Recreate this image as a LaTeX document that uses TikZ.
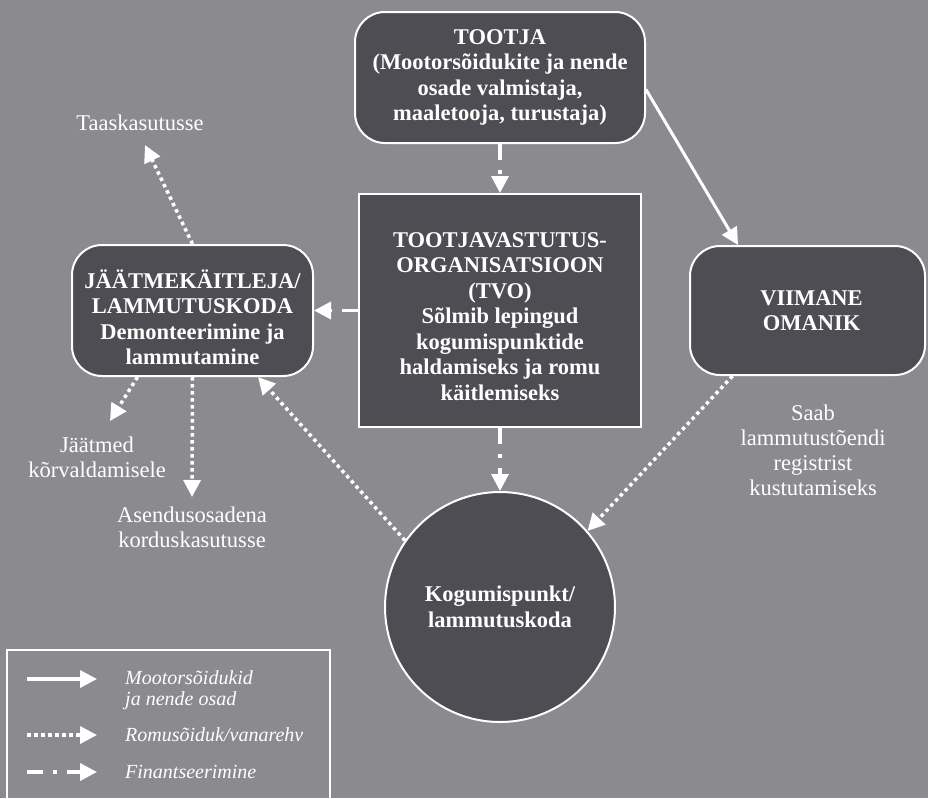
\documentclass[tikz,border=0pt]{standalone}
\usepackage{fontspec}
\setmainfont{Liberation Serif}
\usetikzlibrary{arrows.meta,calc}
\definecolor{bgc}{RGB}{139,138,143}
\definecolor{nodec}{RGB}{78,77,83}
\begin{document}
\begin{tikzpicture}[x=1pt,y=-1pt,
  box/.style={draw=white, line width=2pt, fill=nodec, text=white,
    font=\fontsize{22.5}{25.5}\selectfont\bfseries, align=center, inner sep=0pt},
  rbox/.style={box, rounded corners=30pt},
  lbl/.style={text=white, font=\fontsize{22.5}{25}\selectfont, align=center, inner sep=0pt},
  leg/.style={text=white, font=\fontsize{20}{21}\selectfont\itshape, align=left, inner sep=0pt, anchor=west},
  flow/.style={draw=white, line width=3pt, -{Triangle[width=17pt,length=17pt]}},
  romu/.style={flow, line width=3.5pt, dash pattern=on 3.5pt off 3.5pt},
  fin/.style={flow, line width=3.5pt, dash pattern=on 16pt off 10pt on 3.5pt off 10pt},
]
\useasboundingbox (0,0) rectangle (928,798);
\fill[bgc] (0,0) rectangle (928,798);

% nodes
\node[rbox, minimum width=290pt, minimum height=131pt] (T) at (500,77.5)
  {TOOTJA\\(Mootorsõidukite ja nende\\osade valmistaja,\\maaletooja, turustaja)};
\node[box, minimum width=282pt, minimum height=233pt] (O) at (500,310.5)
  {\rule{0pt}{27pt}TOOTJAVASTUTUS-\\ORGANISATSIOON\\(TVO)\\Sõlmib lepingud\\kogumispunktide\\haldamiseks ja romu\\käitlemiseks};
\node[rbox, minimum width=241pt, minimum height=131pt] (J) at (192.5,310.5)
  {\rule{0pt}{32pt}JÄÄTMEKÄITLEJA/\\LAMMUTUSKODA\\Demonteerimine ja\\lammutamine};
\node[rbox, minimum width=235pt, minimum height=129pt] (V) at (807.5,310.5)
  {\hspace*{8pt}VIIMANE\\\hspace*{8pt}OMANIK};
\node[box, circle, minimum size=230pt] (K) at (500,607)
  {Kogumispunkt/\\lammutuskoda};

% labels
\node[lbl] (taas) at (140,123) {Taaskasutusse};
\node[lbl] (jaat) at (97,457) {Jäätmed\\kõrvaldamisele};
\node[lbl] (asen) at (192,527) {Asendusosadena\\korduskasutusse};
\node[lbl] (saab) at (813,450) {Saab\\lammutustõendi\\registrist\\kustutamiseks};

% free ends
\coordinate (taasE) at (145,145);
\coordinate (jaatE) at (110,421);
\coordinate (asenE) at (192,497);

% connectors
\draw[fin] (T.south) -- (O.north);
\draw[flow] ([yshift=-12pt]T.east) -- ([xshift=-69.5pt]V.north);
\draw[fin] (O.west) -- (J.east);
\draw[fin] (O.south) -- (K.north);
\draw[romu] ([xshift=-75pt]V.south) -- (K.41);
\draw[romu] (K.145) -- ([xshift=65.5pt]J.south);
\draw[romu] (J.north) -- (taasE);
\draw[romu] ([xshift=-55pt]J.south) -- (jaatE);
\draw[romu] (J.south) -- (asenE);

% legend
\draw[white, line width=1.2pt] (7,810) -- (7,650) -- (330,650) -- (330,810);
\coordinate (l1a) at (27,679); \coordinate (l1b) at (97,679);
\coordinate (l2a) at (27,735); \coordinate (l2b) at (97,735);
\coordinate (l3a) at (27,772); \coordinate (l3b) at (97,772);
\draw[flow, line width=3.5pt] (l1a) -- (l1b);
\draw[romu] (l2a) -- (l2b);
\draw[fin] (l3a) -- (l3b);
\node[leg] (lg1) at (125,690) {Mootorsõidukid\\ja nende osad};
\node[leg] (lg2) at (125,735) {Romusõiduk/vanarehv};
\node[leg] (lg3) at (125,772) {Finantseerimine};
\end{tikzpicture}
\end{document}
